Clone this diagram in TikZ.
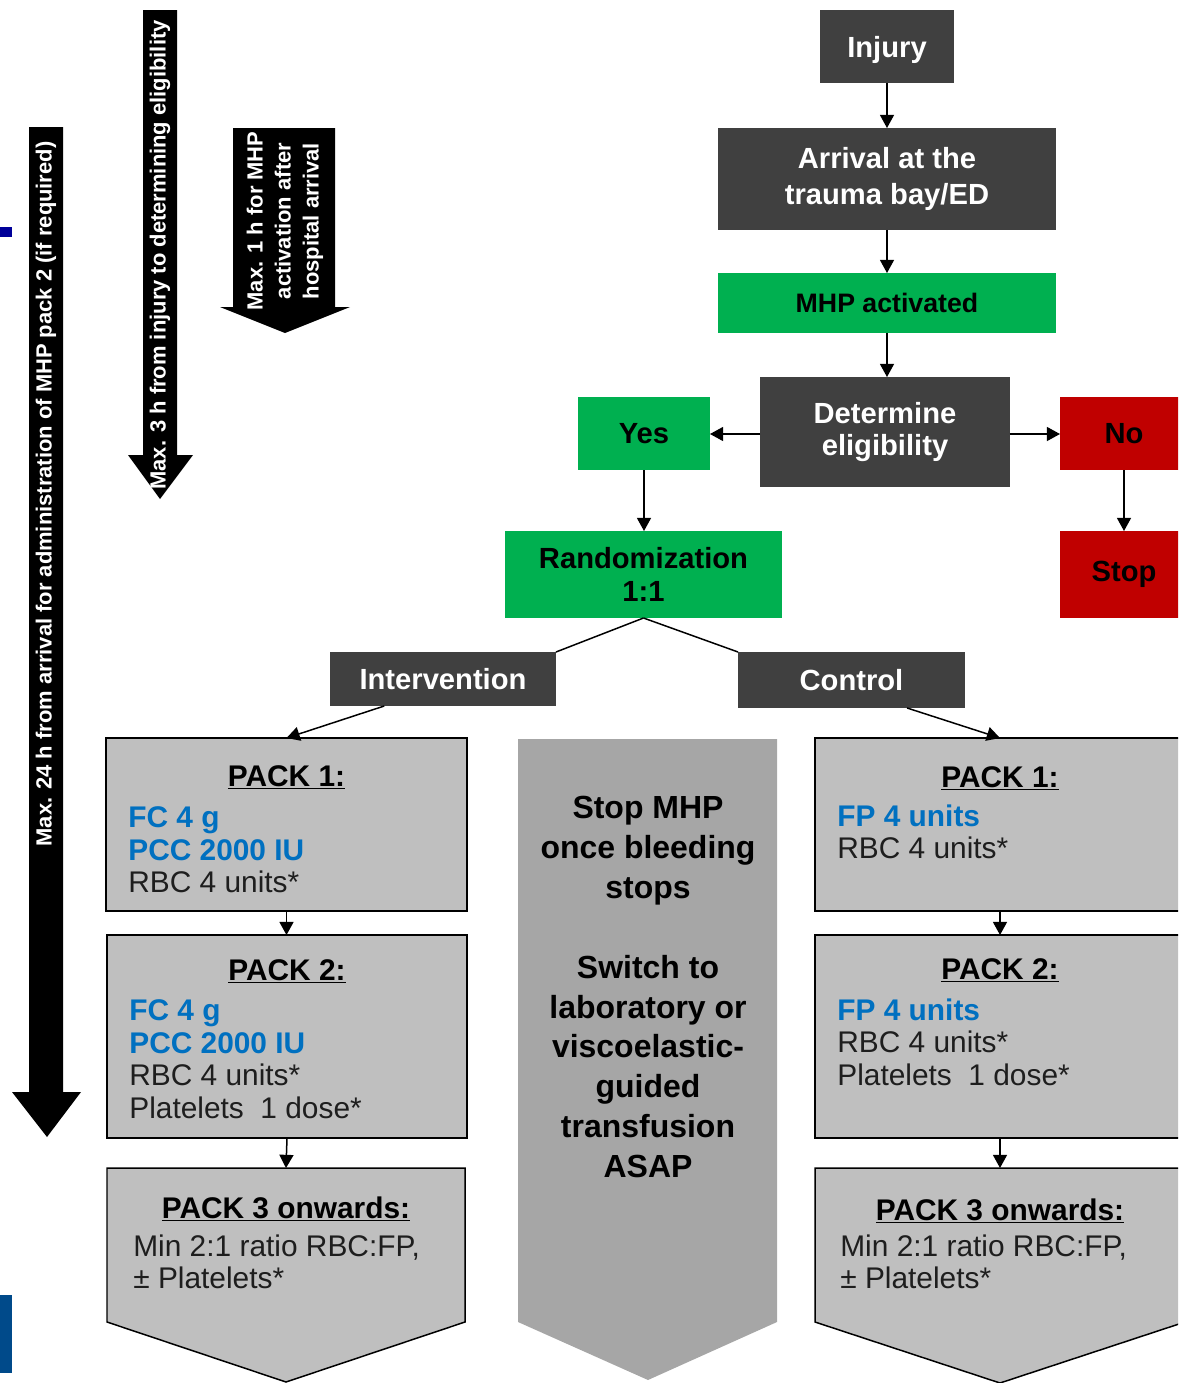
\documentclass[tikz,border=0pt]{standalone}
\usepackage{fontspec}
\setmainfont{Liberation Sans}
\usetikzlibrary{calc,arrows.meta}
\definecolor{dk}{HTML}{404040}
\definecolor{gr}{HTML}{00B050}
\definecolor{rd}{HTML}{C00000}
\definecolor{lg}{HTML}{BFBFBF}
\definecolor{mg}{HTML}{A6A6A6}
\definecolor{bl}{HTML}{0070C0}
\definecolor{nv}{HTML}{000099}
\definecolor{nvb}{HTML}{004A8A}
\definecolor{tx}{HTML}{1E1E1E}
\begin{document}
\begin{tikzpicture}[x=0.02cm,y=-0.02cm,
  box/.style={inner sep=0pt, outer sep=0pt, align=center, font=\bfseries\fontsize{16.6}{19}\selectfont},
  dark/.style={box, fill=dk, text=white},
  grn/.style={box, fill=gr, text=black},
  redbox/.style={box, fill=rd, text=black},
  packbox/.style={inner sep=0pt, outer sep=0pt, draw=black, line width=0.85pt, fill=lg},
  packhead/.style={inner sep=0pt, anchor=base, text=black, font=\bfseries\fontsize{17}{18.7}\selectfont},
  packbody/.style={inner sep=0pt, anchor=north west, align=left, text=tx, font=\fontsize{17}{18.7}\selectfont},
  conn/.style={line width=0.85pt, -{Triangle[length=7.5pt,width=8pt]}},
  plain/.style={line width=0.85pt},
  rot/.style={rotate=90, text=white, inner sep=0pt, align=center, font=\bfseries\fontsize{12.5}{15.9}\selectfont}
]
\useasboundingbox (0,0) rectangle (1178,1383);
\clip (0,0) rectangle (1178,1383);

% left marks
\fill[nv] (0,227) rectangle (12,237);
\fill[nvb] (0,1295) rectangle (12,1373);

% big timing arrows
\fill[black] (29,127) -- (63,127) -- (63,1092) -- (81,1092) -- (47,1137) -- (12,1092) -- (29,1092) -- cycle;
\node[rot] (t24) at (46,494) {Max. 24 h from arrival for administration of MHP pack 2 (if required)};
\fill[black] (143,10) -- (177,10) -- (177,455) -- (193,455) -- (160,499) -- (128,455) -- (143,455) -- cycle;
\node[rot] (t3) at (160,255) {Max. 3 h from injury to determining eligibility};
\fill[black] (233,128) -- (335,128) -- (335,307) -- (350,307) -- (285,333) -- (220,307) -- (233,307) -- cycle;
\node[rot] (t1) at (285,221) {Max. 1 h for MHP\\activation after\\hospital arrival};

% flow boxes
\node[dark, minimum width=2.68cm, minimum height=1.46cm, text depth=0pt] (injury) at (887,46.5) {Injury};
\node[dark, minimum width=6.76cm, minimum height=2.04cm, font=\bfseries\fontsize{16.6}{21}\selectfont] (arrival) at (887,179) {Arrival at the\\trauma bay/ED};
\node[grn, minimum width=6.76cm, minimum height=1.2cm, font=\bfseries\fontsize{15.2}{18}\selectfont] (mhp) at (887,303) {MHP activated};
\node[dark, minimum width=5.0cm, minimum height=2.2cm, font=\bfseries\fontsize{16.6}{18.1}\selectfont] (det) at (885,432) {Determine\\eligibility};
\node[grn, minimum width=2.64cm, minimum height=1.48cm] (yes) at (644,433.5) {Yes};
\node[redbox, minimum width=2.56cm, minimum height=1.48cm] (no) at (1124,433.5) {No};
\node[redbox, minimum width=2.56cm, minimum height=1.74cm] (stop) at (1124,574.5) {Stop};
\node[grn, minimum width=5.54cm, minimum height=1.74cm, font=\bfseries\fontsize{16.6}{18.7}\selectfont] (rand) at (643.5,574.5) {Randomization\\1:1};
\node[dark, minimum width=4.52cm, minimum height=1.08cm] (interv) at (443,679) {Intervention};
\node[dark, minimum width=4.54cm, minimum height=1.12cm] (ctrl) at (851.5,680) {Control};

% middle chevron
\fill[mg] (518,739) -- (777,739) -- (777,1322) -- (648,1380) -- (518,1322) -- cycle;
\node[inner sep=0pt, anchor=north, align=center, text=black, font=\bfseries\fontsize{18.2}{22.7}\selectfont] (midtext) at (648,796)
  {Stop MHP\\once bleeding\\stops\\[22.7pt]Switch to\\laboratory or\\viscoelastic-\\guided\\transfusion\\ASAP};

% pack boxes
\node[packbox, minimum width=7.22cm, minimum height=3.46cm] (p1l) at (286.5,824.5) {};
\node[packbox, minimum width=7.2cm, minimum height=4.06cm] (p2l) at (287,1036.5) {};
\node[packbox, minimum width=7.4cm, minimum height=3.46cm] (p1r) at (1000,824.5) {};
\node[packbox, minimum width=7.4cm, minimum height=4.06cm] (p2r) at (1000,1036.5) {};
\filldraw[fill=lg, draw=black, line width=0.85pt] (107,1168) -- (465,1168) -- (465,1322) -- (286,1382) -- (107,1322) -- cycle;
\filldraw[fill=lg, draw=black, line width=0.85pt] (815,1168) -- (1185,1168) -- (1185,1322) -- (1000,1383) -- (815,1322) -- cycle;
\coordinate (p3l) at (286,1168);
\coordinate (p3r) at (1000,1168);

% pack texts
\node[packhead] (h1l) at ($(p1l.north)+(0,48)$) {\underline{PACK 1:}};
\node[packbody] (b1l) at (128,806) {\textcolor{bl}{\bfseries FC 4 g}\\\textcolor{bl}{\bfseries PCC 2000 IU}\\RBC 4 units*};
\node[packhead] (h2l) at ($(p2l.north)+(0,45)$) {\underline{PACK 2:}};
\node[packbody] (b2l) at (129,999) {\textcolor{bl}{\bfseries FC 4 g}\\\textcolor{bl}{\bfseries PCC 2000 IU}\\RBC 4 units*\\Platelets\ \ 1 dose*};
\node[packhead] (h3l) at (286,1218) {\underline{PACK 3 onwards:}};
\node[packbody] (b3l) at (133,1234) {Min 2:1 ratio RBC:FP,\\± Platelets*};

\node[packhead] (h1r) at ($(p1r.north)+(0,49)$) {\underline{PACK 1:}};
\node[packbody] (b1r) at (837,804) {\textcolor{bl}{\bfseries FP 4 units}\\RBC 4 units*};
\node[packhead] (h2r) at ($(p2r.north)+(0,44)$) {\underline{PACK 2:}};
\node[packbody] (b2r) at (837,998) {\textcolor{bl}{\bfseries FP 4 units}\\RBC 4 units*\\Platelets\ \ 1 dose*};
\node[packhead] (h3r) at (1000,1220) {\underline{PACK 3 onwards:}};
\node[packbody] (b3r) at (840,1234) {Min 2:1 ratio RBC:FP,\\± Platelets*};

% connectors
\draw[conn] (injury.south) -- (arrival.north);
\draw[conn] (arrival.south) -- (mhp.north);
\draw[conn] (mhp.south) -- (mhp.south |- det.north);
\draw[conn] (det.west |- 0,434) -- (yes.east |- 0,434);
\draw[conn] (det.east |- 0,434) -- (no.west |- 0,434);
\draw[conn] (yes.south) -- (yes.south |- rand.north);
\draw[conn] (no.south) -- (stop.north);
\draw[plain] (rand.south) -- (interv.north east);
\draw[plain] (rand.south) -- (ctrl.north west);
\coordinate (ia) at ($(interv.south west)!0.24!(interv.south east)$);
\coordinate (ca) at ($(ctrl.south west)!0.745!(ctrl.south east)$);
\draw[conn] (ia) -- (p1l.north);
\draw[conn] (ca) -- (p1r.north);
\draw[conn] (p1l.south) -- (p1l.south |- p2l.north);
\draw[conn] (p2l.south) -- (p3l);
\draw[conn] (p1r.south) -- (p2r.north);
\draw[conn] (p2r.south) -- (p3r);
\end{tikzpicture}
\end{document}
